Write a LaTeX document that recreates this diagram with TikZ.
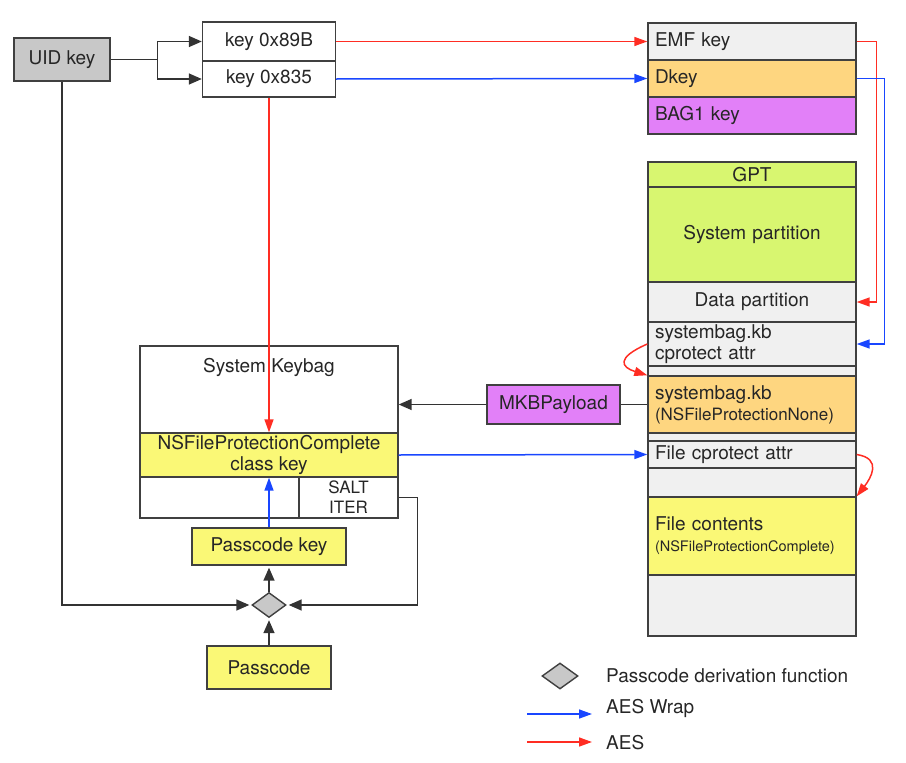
\documentclass[tikz,border=0pt]{standalone}
\usepackage{fontspec}
\setmainfont{TeX Gyre Heros}
\usetikzlibrary{shapes.geometric, arrows.meta}
\definecolor{uidgray}{RGB}{200,200,200}
\definecolor{cellgray}{RGB}{240,240,240}
\definecolor{dkeyorange}{RGB}{254,214,128}
\definecolor{bagviolet}{RGB}{226,128,248}
\definecolor{gptgreen}{RGB}{216,246,112}
\definecolor{keyyellow}{RGB}{250,248,118}
\definecolor{aesred}{RGB}{255,45,35}
\definecolor{wrapblue}{RGB}{25,70,255}
\def\mainfnt{\fontsize{19}{21}\selectfont}
\def\smallfnt{\fontsize{17}{20}\selectfont}
\def\tinyfnt{\fontsize{14.5}{17}\selectfont}
\tikzstyle{box} = [rectangle, draw=black!75, line width=1.4pt, inner sep=0pt, font=\mainfnt, text=black!85, align=center]
\tikzstyle{cell} = [box, fill=cellgray, text width=194pt, inner xsep=7pt, align=left]
\tikzstyle{ccell} = [cell, align=center]
\tikzstyle{kdfshape} = [diamond, draw=black!75, line width=1.4pt, fill=uidgray, inner sep=0pt]
\tikzstyle{plain} = [line width=1.5pt, black!80]
\tikzstyle{link} = [plain, -{Triangle[length=13pt,width=11pt]}]
\tikzstyle{aes} = [line width=1.5pt, aesred, -{Triangle[length=13pt,width=9pt]}]
\tikzstyle{wrap} = [line width=1.5pt, wrapblue, -{Triangle[length=13pt,width=9pt]}]

\begin{document}
\begin{tikzpicture}[x=1pt, y=-1pt]
  \useasboundingbox (0,0) rectangle (906,763);

  % hardware keys
  \node[box, fill=uidgray, minimum width=96pt, minimum height=43pt] (uid) at (62,59.5) {UID key};
  \node[box, fill=white, minimum width=133pt, minimum height=39pt] (k89b) at (269,41.5) {key 0x89B};
  \node[box, fill=white, minimum width=133pt, minimum height=36pt] (k835) at (269,79) {key 0x835};

  % effaceable storage
  \node[cell, minimum height=37pt] (emf) at (752,41.5) {EMF key};
  \node[cell, fill=dkeyorange, minimum height=37pt] (dkey) at (752,78.5) {Dkey};
  \node[cell, fill=bagviolet, minimum height=37pt] (bag1) at (752,115.5) {BAG1 key};

  % disk
  \node[cell, minimum height=474pt] (disk) at (752,399) {};
  \node[ccell, fill=gptgreen, minimum height=25pt] (gpt) at (752,174.5) {GPT};
  \node[ccell, fill=gptgreen, minimum height=95pt] (syspart) at (752,234.5) {System partition};
  \node[ccell, minimum height=40pt] (datapart) at (752,302) {Data partition};
  \node[cell, minimum height=44pt] (sbattr) at (752,344) {systembag.kb\\cprotect attr};
  \node[cell, fill=dkeyorange, minimum height=57pt] (sbnone) at (752,404.5) {systembag.kb\\{\smallfnt (NSFileProtectionNone)}};
  \node[cell, minimum height=27pt] (fattr) at (752,454.5) {File cprotect attr};
  \node[cell, fill=keyyellow, minimum height=78pt] (fcont) at (752,536) {File contents\\{\tinyfnt (NSFileProtectionComplete)}};

  % keybag
  \node[box, fill=white, minimum width=258pt, minimum height=172pt] (keybag) at (269,432) {};
  \node[font=\mainfnt, text=black!85] (kbtitle) at (269,367) {System Keybag};
  \node[box, fill=keyyellow, minimum width=258pt, minimum height=44pt] (classkey) at (269,455) {NSFileProtectionComplete\\class key};
  \node[box, font=\smallfnt, minimum width=99pt, minimum height=41pt] (salt) at (348.5,497.5) {SALT\\ITER};
  \node[box, fill=keyyellow, minimum width=154pt, minimum height=37pt] (pkey) at (269,546.5) {Passcode key};
  \node[kdfshape, minimum width=34pt, minimum height=25pt] (kdf) at (269,605) {};
  \node[box, fill=keyyellow, minimum width=124pt, minimum height=43pt] (passcode) at (269,667.5) {Passcode};

  \node[box, fill=bagviolet, minimum width=133pt, minimum height=39pt] (mkb) at (553.5,404.5) {MKBPayload};

  % legend
  \node[kdfshape, minimum width=36pt, minimum height=26pt] (lkdf) at (560,676) {};
  \node[font=\mainfnt, text=black!85, anchor=west, inner sep=0pt] (lkdftxt) at (606,676) {Passcode derivation function};
  \node[font=\mainfnt, text=black!85, anchor=west, inner sep=0pt] (lwraptxt) at (606,708) {AES Wrap};
  \node[font=\mainfnt, text=black!85, anchor=west, inner sep=0pt] (laestxt) at (606,743) {AES};
  \coordinate (lwrap1) at (527,714);
  \coordinate (lwrap2) at (592,714);
  \coordinate (laes1) at (527,742);
  \coordinate (laes2) at (592,742);
  \draw[wrap] (lwrap1) -- (lwrap2);
  \draw[aes] (laes1) -- (laes2);

  \draw[plain] (uid.east) -- ++(47,0) coordinate (fork);
  \draw[link] (fork) |- (k89b.west);
  \draw[link] (fork) |- (k835.west);

  \draw[aes] (k89b.east) -- (emf.west);
  \draw[wrap] (k835.east) -- (dkey.west);
  \draw[aes] (emf.east) -- ++(20,0) |- (datapart.east);
  \draw[wrap] (dkey.east) -- ++(28,0) |- (sbattr.east);
  \draw[aes] (sbattr.west) .. controls +(-32,14) and +(-26,-8) .. (sbnone.north west);
  \draw[aes] (fattr.east) .. controls +(26,4) and +(14,-18) .. (fcont.north east);

  \draw[plain] (sbnone.west) -- (mkb.east);
  \draw[link] (mkb.west) -- (mkb.west -| keybag.east);
  \draw[aes] (k835.south) -- (classkey.north);
  \draw[wrap] (pkey.north) -- (classkey.south);
  \draw[wrap] (classkey.east) -- (fattr.west);

  \draw[link, shorten >=2pt] (kdf.north) -- (pkey.south);
  \draw[link, shorten >=2pt] (passcode.north) -- (kdf.south);
  \draw[link, shorten >=2pt] (uid.south) |- (kdf.west);
  \draw[link, shorten >=2pt] (salt.east) -- ++(19,0) |- (kdf.east);

\end{tikzpicture}
\end{document}
